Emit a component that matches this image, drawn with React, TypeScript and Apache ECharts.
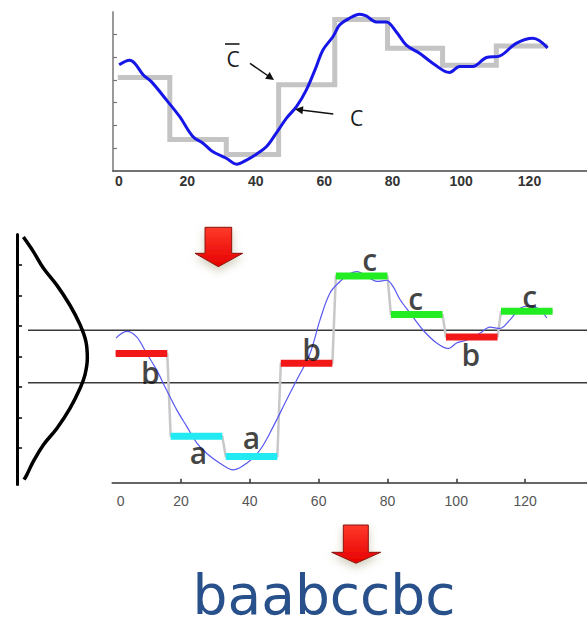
import React, { useEffect, useRef } from 'react';
import * as echarts from 'echarts';

// ---------- data ----------
const xTickValues = [0, 20, 40, 60, 80, 100, 120];
const bottomTickMarks = [20, 40, 60, 80, 100, 120];
const topYTicks = [-1.5, -1, -0.5, 0, 0.5, 1];
const gaussYTicks = [-1.5, -1, -0.5, 0, 0.5, 1, 1.5];

// original series C (top panel)
const topCurveX = [0.1, 3.2, 4.7, 7.1, 9.5, 13.9, 17.8, 21.7, 24.6, 27.5, 31.4, 34.4, 37.3, 40.2, 43.1, 46.0, 49.0, 51.9, 54.8, 57.7, 59.6, 62.6, 64.5, 67.4, 70.4, 72.3, 75.2, 78.2, 81.1, 84.0, 87.9, 91.8, 96.6, 99.6, 103.4, 107.4, 111.2, 116.1, 121.0, 125.3];
const topCurveY = [0.33, 0.43, 0.36, 0.11, -0.04, -0.44, -0.81, -1.25, -1.39, -1.58, -1.72, -1.85, -1.76, -1.63, -1.47, -1.17, -0.84, -0.59, -0.22, 0.29, 0.65, 0.95, 1.2, 1.35, 1.44, 1.4, 1.27, 1.27, 1.05, 0.76, 0.58, 0.36, 0.16, 0.29, 0.29, 0.49, 0.52, 0.8, 0.91, 0.7];

// PAA approximation C-bar
const paaLevels = [0.05, -1.31, -1.64, -0.11, 1.32, 0.69, 0.32, 0.74];
const topStepEdges = [-0.3, 14.9, 31.4, 46.7, 63.1, 78.5, 94.6, 110.3, 125.3];

// bottom panel
const segStart = [1, 17, 33, 49, 65, 81, 97, 113];
const segEnd = [16, 32, 48, 64, 80, 96, 112, 128];
const saxLetters = ['b', 'a', 'a', 'b', 'c', 'c', 'b', 'c'];
const breakpoints = [-0.43, 0.43];

const bottomCurveX = [1.1, 4.2, 7.1, 10.0, 12.9, 15.8, 18.8, 21.7, 24.6, 27.5, 31.3, 35.2, 39.1, 43.0, 46.8, 50.7, 53.6, 57.5, 60.4, 63.3, 66.2, 68.6, 71.1, 74.9, 76.9, 79.8, 81.7, 83.7, 86.6, 90.4, 94.3, 97.7, 100.1, 103.1, 106.9, 109.8, 112.7, 115.6, 118.6, 121.5, 124.4, 126.3];
const bottomCurveY = [0.30, 0.41, 0.32, 0.05, -0.22, -0.55, -0.88, -1.15, -1.42, -1.59, -1.75, -1.86, -1.75, -1.53, -1.15, -0.71, -0.39, 0.05, 0.60, 1.04, 1.23, 1.34, 1.39, 1.28, 1.23, 1.25, 1.14, 0.93, 0.71, 0.43, 0.22, 0.13, 0.22, 0.27, 0.38, 0.48, 0.46, 0.60, 0.79, 0.83, 0.76, 0.63];

// Gaussian curve (density vs z)
const gaussZ = [1.96, 1.88, 1.72, 1.45, 1.17, 0.84, 0.52, 0.24, -0.03, -0.30, -0.52, -0.85, -1.18, -1.45, -1.72, -1.94, -2.02];
const gaussD = [0.02, 0.04, 0.079, 0.138, 0.218, 0.296, 0.356, 0.391, 0.399, 0.385, 0.356, 0.296, 0.218, 0.138, 0.079, 0.04, 0.024];

const saxWord = 'baabccbc';

// ---------- styles ----------
const letterColors: Record<string, string> = { a: '#22eaf2', b: '#f21818', c: '#22ec22' };
const letterOffsets = [[9, 19], [2, 16], [0, -19], [5, -14], [8, -16], [-1, -16], [-1, 18], [3, -15]];

export default function App() {
  const ref = useRef<HTMLDivElement>(null);

  useEffect(() => {
    if (!ref.current) return;
    const chart = echarts.init(ref.current, undefined, { renderer: 'svg' });

    const topStep: number[][] = [];
    paaLevels.forEach((v, k) => {
      topStep.push([topStepEdges[k], v]);
      topStep.push([topStepEdges[k + 1], v]);
    });
    const bottomStep: number[][] = [];
    paaLevels.forEach((v, k) => {
      bottomStep.push([segStart[k], v]);
      bottomStep.push([segEnd[k], v]);
    });

    const segSeries = paaLevels.map((v, k) => ({
      type: 'line',
      xAxisIndex: 1,
      yAxisIndex: 1,
      data: [[segStart[k], v], [segEnd[k], v]],
      symbol: 'none',
      lineStyle: { color: letterColors[saxLetters[k]], width: 7, cap: 'butt' },
      z: 5,
    }));

    const letterData = paaLevels.map((v, k) => ({
      value: [(segStart[k] + segEnd[k]) / 2, v],
      label: { offset: letterOffsets[k], formatter: saxLetters[k] },
    }));

    const redArrow = (pts: number[][]) => ({
      type: 'polygon',
      shape: { points: pts },
      style: {
        fill: new echarts.graphic.LinearGradient(0, 0, 0, 1, [
          { offset: 0, color: '#ff3a2a' },
          { offset: 1, color: '#e60000' },
        ]),
        stroke: '#8a1010',
        lineWidth: 1,
        shadowBlur: 8,
        shadowOffsetY: 4,
        shadowColor: 'rgba(120,110,60,0.35)',
      },
      z: 10,
    });

    const option: any = {
      animation: false,
      backgroundColor: '#ffffff',
      grid: [
        { left: 113, top: 12, width: 474, height: 159 },
        { left: 112.2, top: 234.5, width: 474.8, height: 248.2 },
        { left: 17, top: 234.5, width: 70.5, height: 250.1 },
        { left: 28, top: 234.5, width: 559, height: 248.2 },
      ],
      xAxis: [
        {
          type: 'value', gridIndex: 0, min: -1.7, max: 136.8,
          axisLine: { onZero: false, lineStyle: { color: '#444', width: 1.5 } },
          axisTick: { show: false },
          splitLine: { show: false },
          axisLabel: { customValues: xTickValues, fontWeight: 'bold', fontSize: 14, color: '#333', margin: 3, fontFamily: 'Liberation Sans' },
        },
        {
          type: 'value', gridIndex: 1, min: 0, max: 138,
          axisLine: { onZero: false, lineStyle: { color: '#333', width: 1.5 } },
          axisTick: { inside: true, length: 4, customValues: bottomTickMarks, lineStyle: { color: '#333', width: 1.5 } },
          splitLine: { show: false },
          axisLabel: {
            customValues: xTickValues, fontSize: 14, color: '#555', margin: 11, fontFamily: 'Liberation Sans',
            formatter: (v: number) => (v === 0 ? '{z|0}' : String(v)),
            rich: { z: { padding: [0, 0, 0, 17], fontSize: 14, color: '#555', fontFamily: 'Liberation Sans' } },
          },
        },
        { type: 'value', gridIndex: 2, min: -0.018, max: 0.4, show: false },
        { type: 'value', gridIndex: 3, min: 0, max: 1, show: false },
      ],
      yAxis: [
        {
          type: 'value', gridIndex: 0, min: -2, max: 1.487,
          axisLine: { show: true, onZero: false, lineStyle: { color: '#999', width: 2 } },
          axisTick: { show: true, inside: true, length: 4, customValues: topYTicks, lineStyle: { color: '#777', width: 1.2 } },
          axisLabel: { show: false },
          splitLine: { show: false },
        },
        { type: 'value', gridIndex: 1, min: -2.07, max: 2.0, show: false },
        {
          type: 'value', gridIndex: 2, min: -2.1, max: 2.0,
          axisLine: { show: true, onZero: false, lineStyle: { color: '#000', width: 3 } },
          axisTick: { show: true, inside: true, length: 5, customValues: gaussYTicks, lineStyle: { color: '#000', width: 1.5 } },
          axisLabel: { show: false },
          splitLine: { show: false },
        },
        { type: 'value', gridIndex: 3, min: -2.07, max: 2.0, show: false },
      ],
      series: [
        {
          type: 'line', xAxisIndex: 0, yAxisIndex: 0, data: topStep, symbol: 'none',
          lineStyle: { color: '#c4c4c4', width: 5, cap: 'butt', join: 'miter' }, z: 2,
        },
        {
          type: 'line', xAxisIndex: 0, yAxisIndex: 0,
          data: topCurveX.map((x, i) => [x, topCurveY[i]]),
          symbol: 'none', smooth: 0.35,
          lineStyle: { color: '#1616e8', width: 3 }, z: 3,
        },
        ...breakpoints.map((b) => ({
          type: 'line', xAxisIndex: 3, yAxisIndex: 3, data: [[0, b], [1, b]], symbol: 'none',
          lineStyle: { color: '#3a3a3a', width: 1.5 }, z: 1,
        })),
        {
          type: 'line', xAxisIndex: 2, yAxisIndex: 2,
          data: gaussD.map((d, i) => [d, gaussZ[i]]),
          symbol: 'none', smooth: 0.4,
          lineStyle: { color: '#000', width: 3.5 }, z: 3,
        },
        {
          type: 'line', xAxisIndex: 1, yAxisIndex: 1, data: bottomStep, symbol: 'none',
          lineStyle: { color: '#c8c8c8', width: 2.5 }, z: 2,
        },
        {
          type: 'line', xAxisIndex: 1, yAxisIndex: 1,
          data: bottomCurveX.map((x, i) => [x, bottomCurveY[i]]),
          symbol: 'none', smooth: 0.35,
          lineStyle: { color: '#5858f2', width: 1.2 }, z: 3,
        },
        ...segSeries,
        {
          type: 'scatter', xAxisIndex: 1, yAxisIndex: 1, symbolSize: 0,
          data: letterData,
          label: {
            show: true, position: 'inside', fontSize: 30, color: '#111', fontWeight: 600,
            fontFamily: 'Open Sans',
          },
          z: 6,
        },
      ],
      graphic: [
        // C-bar annotation
        { type: 'text', x: 233, y: 59, style: { text: 'C', fontSize: 21, fontFamily: 'Open Sans', fill: '#1a1a1a', textAlign: 'center', textVerticalAlign: 'middle' }, z: 10 },
        { type: 'line', shape: { x1: 225, y1: 44, x2: 239.5, y2: 44 }, style: { stroke: '#1a1a1a', lineWidth: 1.6 }, z: 10 },
        { type: 'text', x: 356.5, y: 118, style: { text: 'C', fontSize: 21, fontFamily: 'Open Sans', fill: '#1a1a1a', textAlign: 'center', textVerticalAlign: 'middle' }, z: 10 },
        // black arrows
        { type: 'line', shape: { x1: 250, y1: 63.3, x2: 269, y2: 76.5 }, style: { stroke: '#111', lineWidth: 1.5 }, z: 10 },
        { type: 'polygon', shape: { points: [[274, 80], [265.1, 78.7], [269.7, 72.1]] }, style: { fill: '#111' }, z: 10 },
        { type: 'line', shape: { x1: 333.3, y1: 114, x2: 301, y2: 110 }, style: { stroke: '#111', lineWidth: 1.5 }, z: 10 },
        { type: 'polygon', shape: { points: [[295, 109.3], [303.4, 106.3], [302.4, 114.3]] }, style: { fill: '#111' }, z: 10 },
        // red arrows
        redArrow([[205, 227.3], [231.7, 227.3], [231.7, 253.3], [242.7, 253.3], [218.3, 266.7], [195, 253.3], [205, 253.3]]),
        redArrow([[343.3, 525], [368.3, 525], [368.3, 552.3], [380.7, 552.3], [356, 563.3], [331.7, 552.3], [343.3, 552.3]]),
        // SAX word
        { type: 'text', x: 324, y: 622.5, style: { text: saxWord, fontSize: 55, fontFamily: 'DejaVu Sans', fill: '#28508a', textAlign: 'center', textVerticalAlign: 'bottom' }, z: 10 },
      ],
    };

    chart.setOption(option);
    return () => chart.dispose();
  }, []);

  return (
    <div
      ref={ref}
      style={{ position: 'fixed', left: 0, top: 0, width: 587, height: 631, background: '#fff' }}
    />
  );
}
